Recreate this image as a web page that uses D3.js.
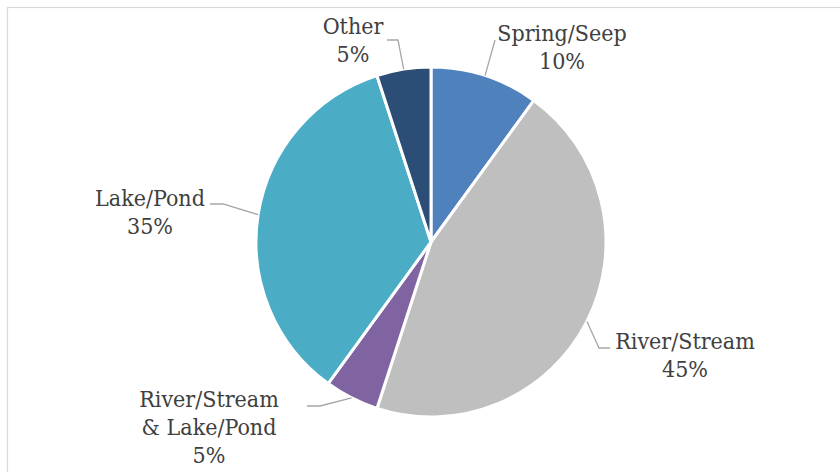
<!DOCTYPE html>
<html>
<head>
<meta charset="utf-8">
<script src="https://cdn.jsdelivr.net/npm/d3@7"></script>
<style>
  html, body { margin: 0; padding: 0; background: #fff; }
  svg { display: block; }
  .lbl { font-family: "DejaVu Serif Condensed", "DejaVu Serif", serif; font-size: 23px; fill: #404040; }
</style>
</head>
<body>
<svg id="chart" width="840" height="472"></svg>
<script>
// Water source categories and their shares (percent)
const categories = ["Spring/Seep", "River/Stream", "River/Stream & Lake/Pond", "Lake/Pond", "Other"];
const shares = [10, 45, 5, 35, 5];
const labelLines = [["Spring/Seep"], ["River/Stream"], ["River/Stream", "& Lake/Pond"], ["Lake/Pond"], ["Other"]];
const colors = ["#4f81bd", "#bfbfbf", "#8064a2", "#4bacc6", "#2c4d75"];

const svg = d3.select("#chart");
const W = 840, H = 472;

// chart area frame
svg.append("rect")
  .attr("x", 7.5).attr("y", 7.5)
  .attr("width", W + 10).attr("height", H + 10)
  .attr("fill", "#fff").attr("stroke", "#d9d9d9").attr("stroke-width", 1.2);

const cx = 431, cy = 242, R = 175;
const data = categories.map((c, i) => ({ name: c, value: shares[i], lines: labelLines[i], color: colors[i] }));

const pie = d3.pie().value(d => d.value).sort(null);
const arcs = pie(data);
const arc = d3.arc().innerRadius(0).outerRadius(R);

const g = svg.append("g").attr("transform", `translate(${cx},${cy})`);
g.selectAll("path.slice")
  .data(arcs)
  .join("path")
  .attr("class", "slice")
  .attr("d", arc)
  .attr("fill", d => d.data.color)
  .attr("stroke", "#fff")
  .attr("stroke-width", 3)
  .attr("stroke-linejoin", "round");

// label placement: text centre x, first baseline y, and leader elbow points
const placement = [
  { x: 562, y: 41, leader: [[495, 40]] },
  { x: 685, y: 349, leader: [[599, 348], [610, 348]] },
  { x: 209, y: 407, leader: [[320, 406], [307, 406]] },
  { x: 150, y: 206, leader: [[223, 204], [210, 204]] },
  { x: 353, y: 34, leader: [[398, 40], [387, 40]] }
];
const lineGap = 28;

arcs.forEach((a, i) => {
  const mid = (a.startAngle + a.endAngle) / 2;
  const ax = cx + R * Math.sin(mid);
  const ay = cy - R * Math.cos(mid);
  const p = placement[i];
  const pts = [[ax, ay]].concat(p.leader);
  svg.append("path")
    .attr("d", d3.line()(pts))
    .attr("fill", "none")
    .attr("stroke", "#a6a6a6")
    .attr("stroke-width", 1.3);

  const lines = a.data.lines.concat([d3.format(".0f")(a.data.value) + "%"]);
  const t = svg.append("text")
    .attr("class", "lbl")
    .attr("text-anchor", "middle");
  lines.forEach((ln, k) => {
    t.append("tspan").attr("x", p.x).attr("y", p.y + k * lineGap).text(ln);
  });
});
</script>
</body>
</html>
